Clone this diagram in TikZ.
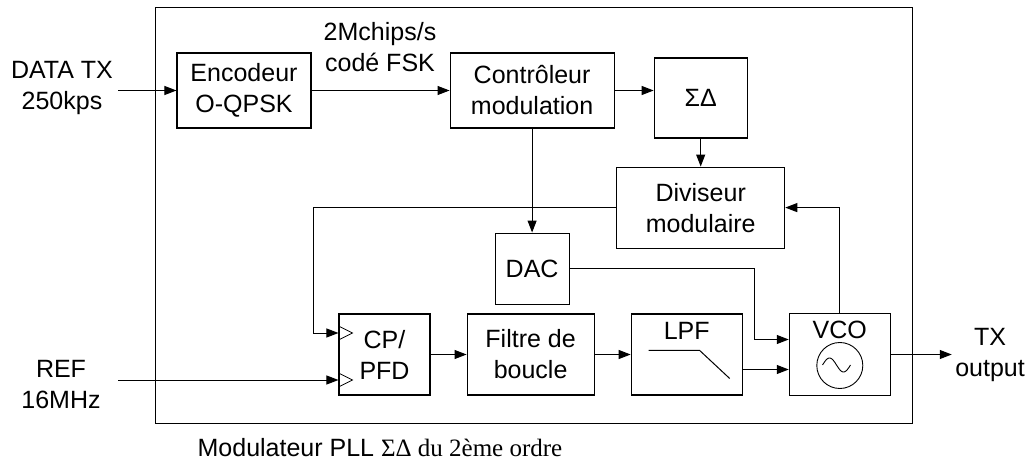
\documentclass[tikz,border=0pt]{standalone}
\usepackage{fontspec}
\setmainfont{Liberation Sans}
\newfontfamily\capserif{Liberation Serif}
\usetikzlibrary{arrows.meta,positioning}

\begin{document}
\begin{tikzpicture}[
  x=1pt, y=-1pt,
  font=\fontsize{25}{31}\selectfont,
  line width=1pt,
  arrow/.style={-{Triangle[length=12pt,width=9pt]}, line width=1pt},
  blk/.style={rectangle, draw, line width=1.1pt, align=center, inner sep=2pt},
  lbl/.style={align=center, inner sep=3pt},
  clk/.style={line width=0.8pt}
]
\useasboundingbox (0,0) rectangle (1033,470);

% Outer frame
\node[draw, minimum width=757pt, minimum height=415pt, inner sep=0pt] (frame) at (533.5,215.5) {};

% Top row
\node[blk, minimum width=134pt, minimum height=75pt] (enc) at (244,90.5) {Encodeur\\O-QPSK};
\node[blk, minimum width=164pt, minimum height=75pt, right=138pt of enc] (ctrl) {Contrôleur\\modulation};
\node[blk, minimum width=93pt, minimum height=80pt, right=39pt of ctrl, yshift=-7.5pt] (sd) {ΣΔ};

% Middle
\node[blk, minimum width=168pt, minimum height=81pt, below=28pt of sd] (div) {Diviseur\\modulaire};
\node[blk, minimum width=74pt, minimum height=71pt, below=104pt of ctrl] (dac) {DAC};

% Bottom row
\node[blk, minimum width=91pt, minimum height=81pt] (pfd) at (384.5,354.5) {CP/\\PFD};
\node[blk, minimum width=127pt, minimum height=81pt, right=36pt of pfd] (filt) {Filtre de\\boucle};
\node[blk, minimum width=111pt, minimum height=81pt, right=36pt of filt] (lpf) {};
\node[blk, minimum width=101pt, minimum height=82pt, right=46pt of lpf] (vco) {};

\node at ([yshift=-17pt]lpf.north) (lpft) {LPF};
\node at ([yshift=-17pt]vco.north) (vcot) {VCO};

% Outside labels
\node[lbl] (datatx) at (62,88) {DATA TX\\250kps};
\node[lbl] (rate) at (380,47) {2Mchips/s\\codé FSK};
\node[lbl] (ref) at (61,385) {REF\\16MHz};
\node[lbl] (txout) at (990,355) {TX\\output};
\node (cap) at (380,448) {Modulateur PLL {\capserif ΣΔ du 2ème ordre}};

% Coordinates
\coordinate (datain) at (118,90.5);
\coordinate (refin) at (118,380);
\coordinate (fb) at (313,0);
\coordinate (dacx) at (754,0);
\coordinate (pfdA) at ([yshift=21.5pt]pfd.west);
\coordinate (pfdB) at ([yshift=-25.5pt]pfd.west);

% Symbols
\draw ([shift={(18,37)}]lpf.north west) -- ++(51,0) -- ++(30,28);
\draw[line width=0.9pt] ([yshift=-11pt]vco.center) circle (23pt);
\draw[line width=0.9pt] plot[domain=-14:14, samples=40]
  ({\x+836.5}, {365+7*sin(\x*180/14)});
\draw[clk] ([yshift=7pt]pfdA) -- ++(14,7) -- ++(-14,7);
\draw[clk] ([yshift=7pt]pfdB) -- ++(14,7) -- ++(-14,7);

% Arrows
\draw[arrow] (datain) -- (enc.west);
\draw[arrow] (enc) -- (ctrl);
\draw[arrow] (ctrl.east) -- (ctrl.east -| sd.west);
\draw[arrow] (sd) -- (div);
\draw[arrow] (ctrl) -- (dac);
\draw[arrow] (div.west) -- (div.west -| fb) |- (pfdA);
\draw[arrow] (refin) -- (pfdB);
\draw[arrow] (pfd) -- (filt);
\draw[arrow] (filt) -- (lpf);
\draw[arrow] ([yshift=-15pt]lpf.east) -- ([yshift=-15pt]vco.west);
\draw[arrow] (dac.east) -- (dac.east -| dacx) |- ([yshift=15pt]vco.west);
\draw[arrow] (vco.north) |- (div.east);
\draw[arrow] (vco.east) -- (vco.east -| txout.west);

\end{tikzpicture}
\end{document}
